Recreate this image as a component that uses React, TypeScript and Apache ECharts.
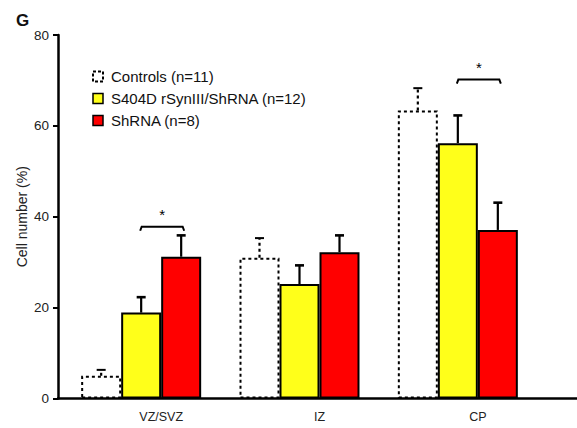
import React, { useEffect, useRef } from "react";
import * as echarts from "echarts";

const categories = ["VZ/SVZ", "IZ", "CP"];
const seriesNames = ["Controls (n=11)", "S404D rSynIII/ShRNA (n=12)", "ShRNA (n=8)"];
const controlsMean = [5.0, 31.0, 63.4];
const controlsErr = [1.3, 4.3, 4.9];
const s404dMean = [18.9, 25.2, 56.2];
const s404dErr = [3.4, 4.1, 6.1];
const shrnaMean = [31.2, 32.2, 37.1];
const shrnaErr = [4.7, 3.7, 6.0];
// significance brackets: category index, height (y value), label
const bracketCats = [0, 2];
const bracketY = [37.8, 70.2];
const bracketLabel = ["*", "*"];
const yTicks = [0, 20, 40, 60, 80];

const FONT = "Liberation Sans, Arial, sans-serif";
const BAR_W = 40;
const offsets = [-BAR_W, 0, BAR_W];

function errSeries(means: number[], errs: number[], si: number, dashed: boolean) {
  return {
    type: "custom",
    z: 5,
    silent: true,
    renderItem: (params: any, api: any) => {
      const idx = api.value(0);
      const v = api.value(1);
      const e = api.value(2);
      const p0 = api.coord([idx, v]);
      const p1 = api.coord([idx, v + e]);
      const x = p0[0] + offsets[si];
      const style = {
        stroke: "#000",
        lineWidth: 2.2,
        lineDash: dashed ? [3, 3] : null,
      };
      return {
        type: "group",
        children: [
          { type: "line", shape: { x1: x, y1: p0[1], x2: x, y2: p1[1] }, style },
          { type: "line", shape: { x1: x - 4.5, y1: p1[1], x2: x + 4.5, y2: p1[1] }, style: { ...style, lineDash: null, lineWidth: dashed ? 2 : 2.6 } },
        ],
      };
    },
    data: means.map((m, i) => [i, m, errs[i]]),
  };
}

export default function App() {
  const ref = useRef<HTMLDivElement>(null);
  useEffect(() => {
    if (!ref.current) return;
    const chart = echarts.init(ref.current, null, { renderer: "svg" });
    const option: any = {
      animation: false,
      backgroundColor: "#fff",
      title: {
        text: "G",
        left: 16,
        top: 12,
        padding: 0,
        textStyle: { fontSize: 17, fontWeight: "bold", color: "#111", fontFamily: FONT },
      },
      legend: {
        orient: "vertical",
        left: 92,
        top: 69,
        padding: 0,
        itemWidth: 10,
        itemHeight: 10,
        itemGap: 7,
        icon: "rect",
        textStyle: { fontSize: 15, color: "#111", fontFamily: FONT, padding: [0, 0, 0, 3] },
        data: [
          { name: seriesNames[0], itemStyle: { color: "#fff", borderColor: "#000", borderWidth: 2, borderType: [3, 2] } },
          { name: seriesNames[1], itemStyle: { color: "#ffff1a", borderColor: "#000", borderWidth: 1.5 } },
          { name: seriesNames[2], itemStyle: { color: "#ff0000", borderColor: "#000", borderWidth: 1.5 } },
        ],
      },
      grid: { left: 62, right: 40, top: 35, bottom: 29.5, containLabel: false },
      xAxis: {
        type: "category",
        data: categories,
        axisLine: { show: false },
        axisTick: { show: false },
        axisLabel: {
          margin: 12,
          fontSize: 12.5,
          color: "#222",
          fontFamily: FONT,
          padding: [0, 0, 0, 40],
        },
      },
      yAxis: {
        type: "value",
        min: 0,
        max: 80,
        interval: 20,
        offset: 4,
        name: "Cell number (%)",
        nameLocation: "middle",
        nameRotate: 90,
        nameGap: 29,
        nameMoveOverlap: false,
        nameTextStyle: { fontSize: 14, color: "#222", fontFamily: FONT },
        axisLine: { show: true, lineStyle: { color: "#000", width: 2.5 } },
        axisTick: { show: true, length: 5, lineStyle: { color: "#000", width: 2 } },
        axisLabel: {
          margin: 9,
          fontSize: 13.5,
          color: "#222",
          fontFamily: FONT,
          formatter: (v: number) => (yTicks.includes(v) ? String(v) : ""),
        },
        splitLine: { show: false },
      },
      graphic: [
        {
          type: "line",
          z: 100,
          shape: { x1: 57, y1: 398.5, x2: 577, y2: 398.5 },
          style: { stroke: "#000", lineWidth: 2.5 },
        },
      ],
      series: [
        {
          name: seriesNames[0],
          type: "bar",
          barWidth: BAR_W,
          barGap: "0%",
          data: controlsMean,
          itemStyle: { color: "#fff", borderColor: "#000", borderWidth: 2, borderType: [3, 3] },
        },
        {
          name: seriesNames[1],
          type: "bar",
          barWidth: BAR_W,
          barGap: "0%",
          data: s404dMean,
          itemStyle: { color: "#ffff1a", borderColor: "#000", borderWidth: 2 },
        },
        {
          name: seriesNames[2],
          type: "bar",
          barWidth: BAR_W,
          barGap: "0%",
          data: shrnaMean,
          itemStyle: { color: "#ff0000", borderColor: "#000", borderWidth: 2 },
        },
        errSeries(controlsMean, controlsErr, 0, true),
        errSeries(s404dMean, s404dErr, 1, false),
        errSeries(shrnaMean, shrnaErr, 2, false),
        {
          type: "custom",
          z: 6,
          silent: true,
          renderItem: (params: any, api: any) => {
            const idx = api.value(0);
            const y = api.value(1);
            const p = api.coord([idx, y]);
            const x1 = p[0] + offsets[1] - 1;
            const x2 = p[0] + offsets[2] + 3;
            const yy = p[1];
            return {
              type: "group",
              children: [
                {
                  type: "polyline",
                  shape: { points: [[x1, yy + 4], [x1 + 1.5, yy], [x2 - 1.5, yy], [x2, yy + 4]] },
                  style: { stroke: "#000", lineWidth: 2, fill: null },
                },
                {
                  type: "text",
                  style: {
                    x: (x1 + x2) / 2,
                    y: yy - 12,
                    text: bracketLabel[params.dataIndex],
                    fill: "#000",
                    fontSize: 15,
                    fontFamily: FONT,
                    align: "center",
                    verticalAlign: "middle",
                  },
                },
              ],
            };
          },
          data: bracketCats.map((c, i) => [c, bracketY[i]]),
        },
      ],
    };
    chart.setOption(option);
    return () => chart.dispose();
  }, []);
  return (
    <div
      ref={ref}
      style={{ position: "fixed", left: 0, top: 0, width: 577, height: 428, background: "#fff" }}
    />
  );
}
